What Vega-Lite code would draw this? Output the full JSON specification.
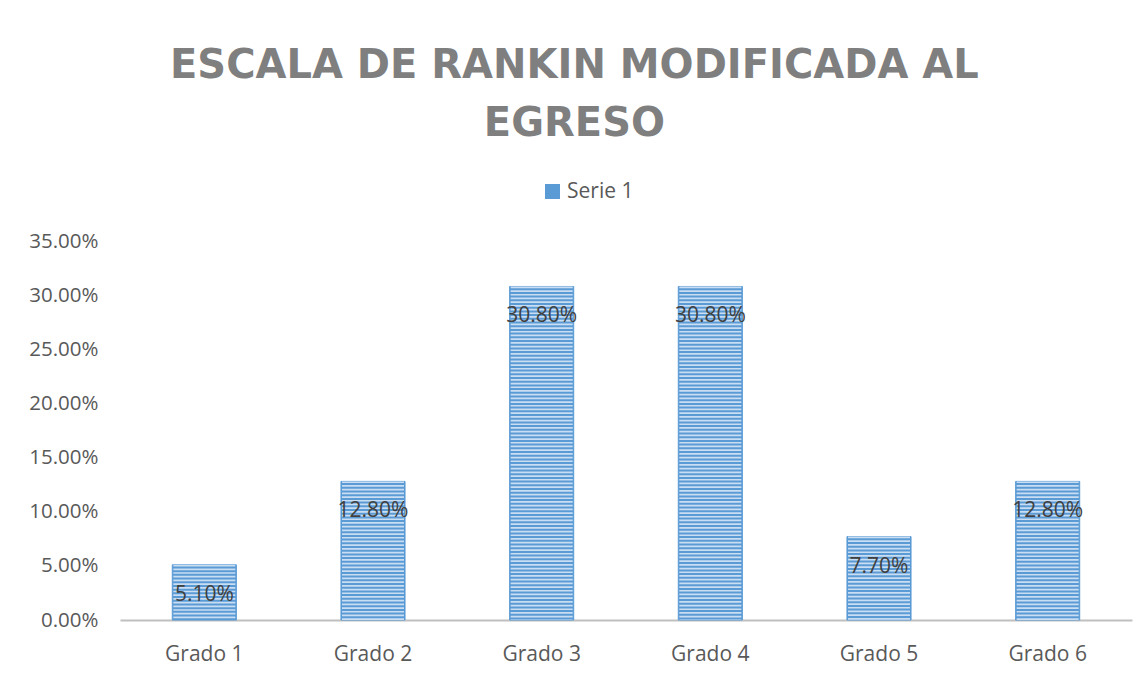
{
  "$schema": "https://vega.github.io/schema/vega-lite/v6.json",
  "width": 1012,
  "height": 379,
  "autosize": {"type": "none"},
  "padding": {"left": 120, "top": 241, "right": 14, "bottom": 57},
  "background": "white",
  "title": {
    "text": ["ESCALA DE RANKIN MODIFICADA AL", "EGRESO"],
    "font": "DejaVu Sans",
    "fontSize": 40,
    "fontWeight": "bold",
    "color": "#7f7f7f",
    "anchor": "middle",
    "frame": "bounds",
    "lineHeight": 58,
    "offset": 37,
    "dx": -6
  },
  "data": {
    "values": [
      {"grado": "Grado 1", "valor": 0.051},
      {"grado": "Grado 2", "valor": 0.128},
      {"grado": "Grado 3", "valor": 0.308},
      {"grado": "Grado 4", "valor": 0.308},
      {"grado": "Grado 5", "valor": 0.077},
      {"grado": "Grado 6", "valor": 0.128}
    ]
  },
  "config": {
    "view": {"stroke": null}
  },
  "encoding": {
    "x": {
      "field": "grado",
      "type": "nominal",
      "sort": null,
      "scale": {"paddingInner": 0.62, "paddingOuter": 0.31},
      "axis": {
        "title": null,
        "labelAngle": 0,
        "domainColor": "#bfbfbf",
        "domainWidth": 2,
        "ticks": false,
        "labelFont": "Open Sans",
        "labelFontSize": 21,
        "labelColor": "#595959",
        "labelPadding": 23
      }
    },
    "y": {
      "field": "valor",
      "type": "quantitative",
      "scale": {"domain": [0, 0.35], "nice": false},
      "axis": {
        "title": null,
        "format": ".2%",
        "values": [0, 0.05, 0.1, 0.15, 0.2, 0.25, 0.3, 0.35],
        "domain": false,
        "ticks": false,
        "grid": false,
        "labelFont": "Open Sans",
        "labelFontSize": 20.5,
        "labelColor": "#595959",
        "labelPadding": 22
      }
    }
  },
  "layer": [
    {
      "mark": {"type": "bar", "stroke": "#5b9bd5", "strokeWidth": 1},
      "encoding": {
        "color": {
          "datum": "Serie 1",
          "type": "nominal",
          "scale": {"range": ["#5b9bd5"]},
          "legend": {
            "orient": "none",
            "legendX": 422,
            "legendY": -60,
            "direction": "horizontal",
            "title": null,
            "symbolType": "square",
            "symbolSize": 225,
            "symbolStrokeWidth": 0,
            "symbolOffset": 0,
            "labelOffset": 4,
            "labelFont": "Open Sans",
            "labelFontSize": 21,
            "labelColor": "#595959"
          }
        }
      }
    },
    {
      "mark": {"type": "rule", "strokeWidth": 62, "strokeDash": [1.7, 2], "color": "#cadef3"},
      "encoding": {
        "y2": {"datum": 0}
      }
    },
    {
      "mark": {"type": "text", "dy": 30, "baseline": "middle", "font": "Open Sans", "fontSize": 21, "color": "#404040"},
      "encoding": {
        "text": {"field": "valor", "type": "quantitative", "format": ".2%"}
      }
    }
  ]
}
